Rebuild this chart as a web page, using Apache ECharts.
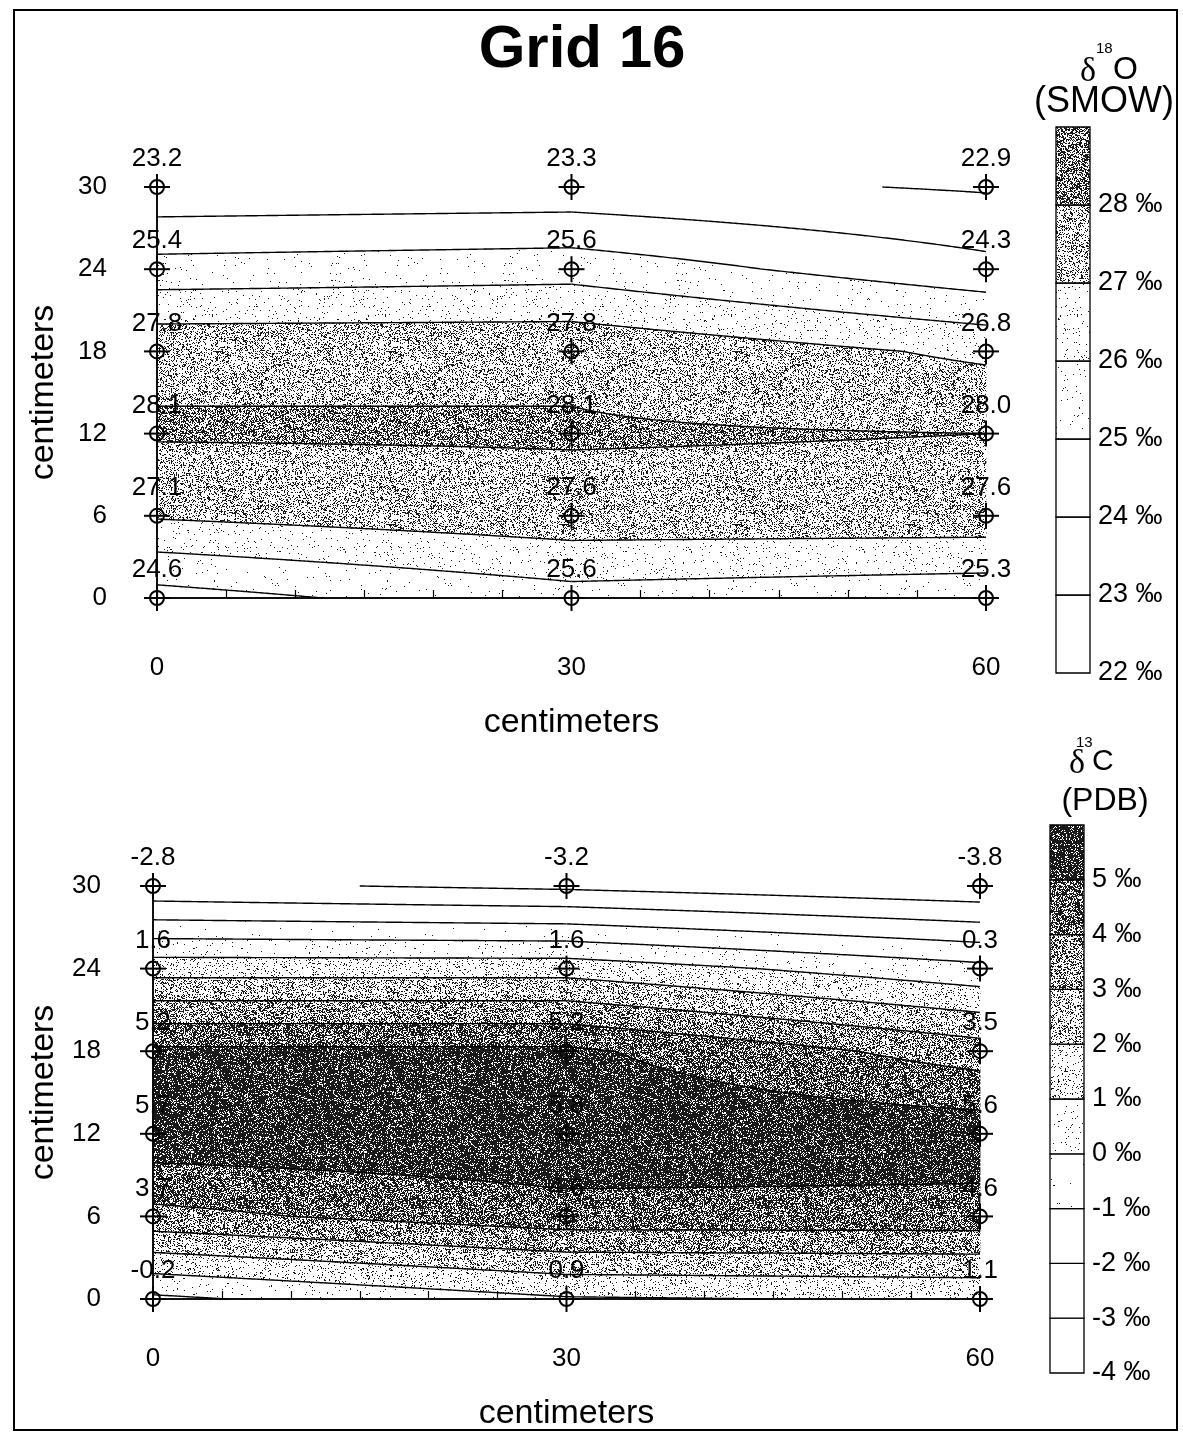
<!DOCTYPE html>
<html lang="en">
<head>
  <meta charset="UTF-8">
  <title>Grid 16</title>
  <script src="https://cdn.jsdelivr.net/npm/echarts@6/dist/echarts.min.js"></script>
  <style>
    html, body { margin: 0; padding: 0; background: #fff; }
    #main { width: 1183px; height: 1432px; }
  </style>
</head>
<body>
<div id="main"></div>
<script type="text/javascript">
  // sample grid (centimeters)
  var gridX = [0, 30, 60];
  var gridY = [0, 6, 12, 18, 24, 30];

  // d18O (SMOW), rows from y=0 up to y=30
  var o18Values = [
    [24.6, 25.6, 25.3],
    [27.1, 27.6, 27.6],
    [28.1, 28.1, 28.0],
    [27.8, 27.8, 26.8],
    [25.4, 25.6, 24.3],
    [23.2, 23.3, 22.9]
  ];
  // d13C (PDB), rows from y=0 up to y=30
  var c13Values = [
    [-0.2, 0.9, 1.1],
    [3.7, 4.6, 4.6],
    [5.7, 5.8, 5.6],
    [5.2, 5.2, 3.5],
    [1.6, 1.6, 0.3],
    [-2.8, -3.2, -3.8]
  ];

  // contour levels and legend ranges
  var o18Levels = [23, 24, 25, 26, 27, 28];
  var o18Scale = [22, 29];
  var c13Levels = [-3, -2, -1, 0, 1, 2, 3, 4, 5];
  var c13Scale = [-4, 6];

  // stipple density for each band (lowest band first)
  var o18Density = [0, 0, 0, 0.01, 0.03, 0.26, 0.5];
  var c13Density = [0, 0, 0, 0.003, 0.02, 0.1, 0.26, 0.42, 0.62, 0.82];

  var FONT = 'Liberation Sans, Arial, Helvetica, sans-serif';

  // deterministic speckle texture
  function hash2(x, y, s) {
    var h = Math.imul(x, 374761393) ^ Math.imul(y, 668265263) ^ Math.imul(s + 1, 2246822519);
    h = Math.imul(h ^ (h >>> 13), 1274126177);
    h ^= h >>> 16;
    return (h >>> 0) / 4294967296;
  }
  function stipple(d, seed) {
    if (!d) return '#ffffff';
    var n = 173;
    var c = document.createElement('canvas');
    c.width = n; c.height = n;
    var ctx = c.getContext('2d');
    var img = ctx.createImageData(n, n);
    for (var y = 0; y < n; y++) {
      for (var x = 0; x < n; x++) {
        var v = hash2(x, y, seed) < d ? 25 : 255;
        var i = (y * n + x) * 4;
        img.data[i] = v; img.data[i + 1] = v; img.data[i + 2] = v; img.data[i + 3] = 255;
      }
    }
    ctx.putImageData(img, 0, 0);
    return { image: c, repeat: 'repeat' };
  }
  var o18Fills = o18Density.map(function (d, i) { return stipple(d, i + 3); });
  var c13Fills = c13Density.map(function (d, i) { return stipple(d, i + 17); });

  function cellData() {
    var out = [];
    for (var iy = 0; iy < gridY.length - 1; iy++)
      for (var ix = 0; ix < gridX.length - 1; ix++)
        out.push([gridX[ix], gridY[iy], ix, iy]);
    return out;
  }
  function pointData(V) {
    var out = [];
    for (var iy = 0; iy < gridY.length; iy++)
      for (var ix = 0; ix < gridX.length; ix++)
        out.push([gridX[ix], gridY[iy], V[iy][ix]]);
    return out;
  }
  function bandData(levels, scale) {
    var edges = [scale[0]].concat(levels, [scale[1]]);
    var out = [];
    for (var i = 0; i < edges.length - 1; i++) out.push([0, edges[i], edges[i + 1], i]);
    return out;
  }

  // bilinear value inside a cell: at fixed u it is A + B*t
  function cellCoef(V, ix, iy) {
    return {
      f00: V[iy][ix], f10: V[iy][ix + 1], f01: V[iy + 1][ix], f11: V[iy + 1][ix + 1]
    };
  }
  function AB(c, u) {
    return [c.f00 * (1 - u) + c.f10 * u, (c.f01 - c.f00) * (1 - u) + (c.f11 - c.f10) * u];
  }

  var NS = 200;

  function fillRender(V, levels, fills) {
    return function (params, api) {
      var ix = api.value(2), iy = api.value(3);
      var x0 = gridX[ix], x1 = gridX[ix + 1], y0 = gridY[iy], y1 = gridY[iy + 1];
      var c = cellCoef(V, ix, iy);
      var children = [];
      for (var b = 0; b < fills.length; b++) {
        var L1 = b === 0 ? -Infinity : levels[b - 1];
        var L2 = b === fills.length - 1 ? Infinity : levels[b];
        var run = [];
        var flush = function () {
          if (run.length > 1) {
            var pts = [];
            for (var i = 0; i < run.length; i++)
              pts.push(api.coord([x0 + run[i][0] * (x1 - x0), y0 + run[i][2] * (y1 - y0)]));
            for (var j = run.length - 1; j >= 0; j--)
              pts.push(api.coord([x0 + run[j][0] * (x1 - x0), y0 + run[j][1] * (y1 - y0)]));
            var f = fills[b];
            children.push({
              type: 'polygon',
              shape: { points: pts },
              style: { fill: f, stroke: f, lineWidth: 0.8 }
            });
          }
          run = [];
        };
        for (var k = 0; k <= NS; k++) {
          var u = k / NS;
          var ab = AB(c, u), A = ab[0], B = ab[1];
          var iv = null;
          if (Math.abs(B) < 1e-12) {
            if (A >= L1 && A < L2) iv = [0, 1];
          } else {
            var ta = (L1 - A) / B, tb = (L2 - A) / B;
            var lo = Math.max(0, Math.min(ta, tb)), hi = Math.min(1, Math.max(ta, tb));
            if (hi > lo) iv = [lo, hi];
          }
          if (iv) run.push([u, iv[0], iv[1]]);
          else flush();
        }
        flush();
      }
      return { type: 'group', children: children };
    };
  }

  function lineRender(V, levels) {
    return function (params, api) {
      var ix = api.value(2), iy = api.value(3);
      var x0 = gridX[ix], x1 = gridX[ix + 1], y0 = gridY[iy], y1 = gridY[iy + 1];
      var c = cellCoef(V, ix, iy);
      var children = [];
      levels.forEach(function (L) {
        var root = function (u) {
          var ab = AB(c, u);
          if (Math.abs(ab[1]) < 1e-12) return null;
          var t = (L - ab[0]) / ab[1];
          return (t >= -1e-9 && t <= 1 + 1e-9) ? Math.min(1, Math.max(0, t)) : null;
        };
        var edge = function (good, bad) {
          for (var i = 0; i < 30; i++) {
            var m = (good + bad) / 2;
            if (root(m) !== null) good = m; else bad = m;
          }
          return [good, root(good)];
        };
        var run = [];
        var flush = function () {
          if (run.length > 1) {
            children.push({
              type: 'polyline',
              shape: {
                points: run.map(function (r) {
                  return api.coord([x0 + r[0] * (x1 - x0), y0 + r[1] * (y1 - y0)]);
                })
              },
              style: { stroke: '#000', lineWidth: 1.4, fill: null }
            });
          }
          run = [];
        };
        var prevU = 0, prevOk = false;
        for (var k = 0; k <= NS; k++) {
          var u = k / NS;
          var t = root(u);
          if (t !== null) {
            if (!prevOk && k > 0) run.push(edge(u, prevU));
            run.push([u, t]);
          } else if (prevOk) {
            run.push(edge(prevU, u));
            flush();
          }
          prevOk = t !== null;
          prevU = u;
        }
        flush();
      });
      return { type: 'group', children: children };
    };
  }

  function markerRender(params, api) {
    var p = api.coord([api.value(0), api.value(1)]);
    var v = api.value(2);
    return {
      type: 'group',
      children: [
        { type: 'line', shape: { x1: p[0] - 13, y1: p[1], x2: p[0] + 13, y2: p[1] }, style: { stroke: '#000', lineWidth: 2 } },
        { type: 'line', shape: { x1: p[0], y1: p[1] - 13, x2: p[0], y2: p[1] + 13 }, style: { stroke: '#000', lineWidth: 2 } },
        { type: 'circle', shape: { cx: p[0], cy: p[1], r: 7 }, style: { fill: 'none', stroke: '#000', lineWidth: 2 } },
        {
          type: 'text', x: p[0], y: p[1] - 28,
          style: { text: v.toFixed(1), font: '26px ' + FONT, fill: '#000', align: 'center', verticalAlign: 'middle' }
        }
      ]
    };
  }

  function barRender(fills) {
    return function (params, api) {
      var a = api.coord([0, api.value(1)]);
      var b = api.coord([1, api.value(2)]);
      var f = fills[api.value(3)];
      return {
        type: 'rect',
        shape: { x: a[0], y: b[1], width: b[0] - a[0], height: a[1] - b[1] },
        style: { fill: f, stroke: '#000', lineWidth: 1.3 }
      };
    };
  }

  var labelStyle = { color: '#000', fontFamily: FONT, fontSize: 26 };
  var nameStyle = { color: '#000', fontFamily: FONT, fontSize: 34 };
  var black = { color: '#000', width: 1.5 };

  function bottomX(grid, margin, gap) {
    return {
      gridIndex: grid, type: 'value', position: 'bottom', min: 0, max: 60, interval: 30,
      name: 'centimeters', nameLocation: 'middle', nameGap: gap, nameTextStyle: nameStyle,
      axisLine: { show: true, lineStyle: black }, axisTick: { show: false },
      axisLabel: Object.assign({ margin: margin }, labelStyle), splitLine: { show: false }, z: 10
    };
  }
  function topX(grid) {
    return {
      gridIndex: grid, type: 'value', position: 'top', min: 0, max: 60, interval: 5,
      axisLine: { show: true, lineStyle: black },
      axisTick: { show: true, length: 8, lineStyle: { color: '#000', width: 1.2 } },
      axisLabel: { show: false }, splitLine: { show: false }, z: 10
    };
  }
  function leftY(grid, margin, gap) {
    return {
      gridIndex: grid, type: 'value', position: 'left', min: 0, max: 30, interval: 6,
      name: 'centimeters', nameLocation: 'middle', nameGap: gap, nameRotate: 90, nameTextStyle: nameStyle,
      axisLine: { show: true, lineStyle: black }, axisTick: { show: false },
      axisLabel: Object.assign({ margin: margin }, labelStyle), splitLine: { show: false }, z: 10
    };
  }
  function rightY(grid) {
    return {
      gridIndex: grid, type: 'value', position: 'right', min: 0, max: 30, interval: 6,
      axisLine: { show: true, lineStyle: black }, axisTick: { show: false },
      axisLabel: { show: false }, splitLine: { show: false }, z: 10
    };
  }
  function hiddenX(grid) {
    return { gridIndex: grid, type: 'value', min: 0, max: 1, show: false };
  }
  function legendY(grid, scale) {
    return {
      gridIndex: grid, type: 'value', position: 'right', min: scale[0], max: scale[1], interval: 1,
      axisLine: { show: false }, axisTick: { show: false }, splitLine: { show: false },
      axisLabel: {
        margin: 8, color: '#000', fontFamily: FONT, fontSize: 27,
        formatter: function (v) { return v >= scale[1] ? '' : v + ' \u2030'; }
      }
    };
  }

  var chartDom = document.getElementById('main');
  var myChart = echarts.init(chartDom, null, { renderer: 'canvas' });

  var headFont = FONT;
  var option = {
    animation: false,
    backgroundColor: '#fff',
    graphic: [
      { type: 'rect', shape: { x: 14, y: 10, width: 1163, height: 1420 }, style: { fill: 'none', stroke: '#000', lineWidth: 2 } },
      { type: 'text', x: 582, y: 50, style: { text: 'Grid 16', font: 'bold 60px ' + FONT, fill: '#000', align: 'center', verticalAlign: 'middle' } },
      { type: 'text', x: 1080, y: 72, style: { text: '\u03b4', font: '34px Liberation Serif, DejaVu Serif, serif', fill: '#000', verticalAlign: 'middle' } },
      { type: 'text', x: 1096, y: 49, style: { text: '18', font: '15px ' + headFont, fill: '#000', verticalAlign: 'middle' } },
      { type: 'text', x: 1113, y: 70, style: { text: 'O', font: '32px ' + headFont, fill: '#000', verticalAlign: 'middle' } },
      { type: 'text', x: 1104, y: 102, style: { text: '(SMOW)', font: '36px ' + headFont, fill: '#000', align: 'center', verticalAlign: 'middle' } },
      { type: 'text', x: 1069, y: 764, style: { text: '\u03b4', font: '34px Liberation Serif, DejaVu Serif, serif', fill: '#000', verticalAlign: 'middle' } },
      { type: 'text', x: 1076, y: 743, style: { text: '13', font: '15px ' + headFont, fill: '#000', verticalAlign: 'middle' } },
      { type: 'text', x: 1092, y: 762, style: { text: 'C', font: '30px ' + headFont, fill: '#000', verticalAlign: 'middle' } },
      { type: 'text', x: 1105, y: 801, style: { text: '(PDB)', font: '32px ' + headFont, fill: '#000', align: 'center', verticalAlign: 'middle' } }
    ],
    grid: [
      { left: 157, top: 187, width: 829, height: 411 },
      { left: 153, top: 886, width: 827, height: 414 },
      { left: 1056, top: 127, width: 34, height: 546 },
      { left: 1050, top: 825, width: 34, height: 548 }
    ],
    xAxis: [
      bottomX(0, 57, 108), topX(0),
      bottomX(1, 47, 98), topX(1),
      hiddenX(2), hiddenX(3)
    ],
    yAxis: [
      leftY(0, 50, 96), rightY(0),
      leftY(1, 52, 92), rightY(1),
      legendY(2, o18Scale), legendY(3, c13Scale)
    ],
    series: [
      { type: 'custom', name: 'o18 fill', xAxisIndex: 0, yAxisIndex: 0, z: 1, data: cellData(), renderItem: fillRender(o18Values, o18Levels, o18Fills) },
      { type: 'custom', name: 'o18 lines', xAxisIndex: 0, yAxisIndex: 0, z: 2, data: cellData(), renderItem: lineRender(o18Values, o18Levels) },
      { type: 'custom', name: 'o18 points', xAxisIndex: 0, yAxisIndex: 0, z: 12, data: pointData(o18Values), renderItem: markerRender },
      { type: 'custom', name: 'c13 fill', xAxisIndex: 2, yAxisIndex: 2, z: 1, data: cellData(), renderItem: fillRender(c13Values, c13Levels, c13Fills) },
      { type: 'custom', name: 'c13 lines', xAxisIndex: 2, yAxisIndex: 2, z: 2, data: cellData(), renderItem: lineRender(c13Values, c13Levels) },
      { type: 'custom', name: 'c13 points', xAxisIndex: 2, yAxisIndex: 2, z: 12, data: pointData(c13Values), renderItem: markerRender },
      { type: 'custom', name: 'o18 legend', xAxisIndex: 4, yAxisIndex: 4, data: bandData(o18Levels, o18Scale), renderItem: barRender(o18Fills) },
      { type: 'custom', name: 'c13 legend', xAxisIndex: 5, yAxisIndex: 5, data: bandData(c13Levels, c13Scale), renderItem: barRender(c13Fills) }
    ]
  };

  option && myChart.setOption(option);
</script>
</body>
</html>
